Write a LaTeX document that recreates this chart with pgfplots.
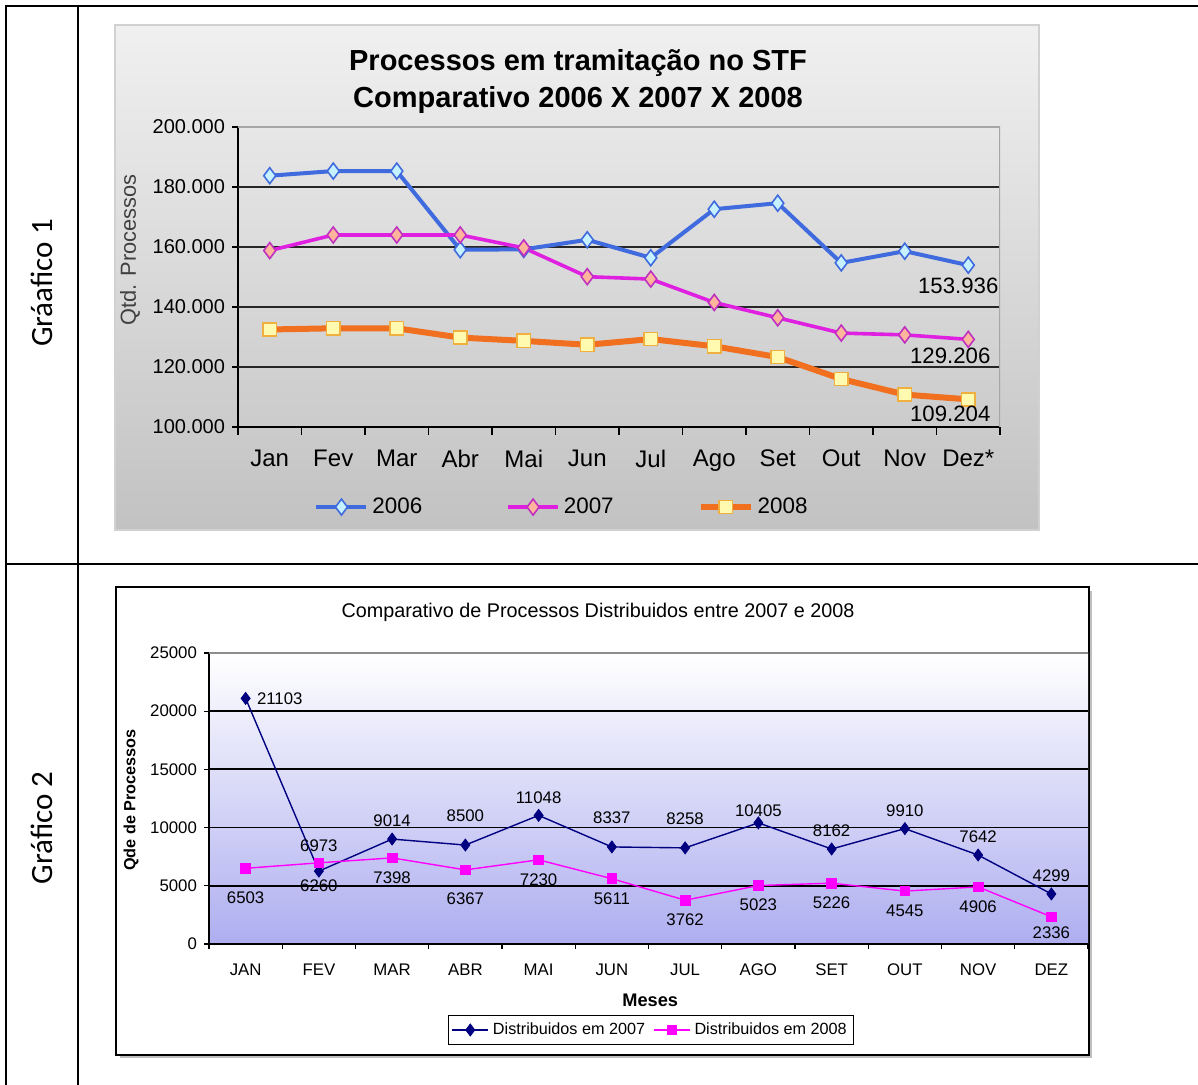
\documentclass[border=0pt]{standalone}
\usepackage{pgfplots}
\pgfplotsset{compat=1.18}
\usepackage{fontspec}
\setmainfont{Liberation Sans}
\newfontfamily\calibri{Carlito}
\definecolor{boxtop}{HTML}{F0F0F0}
\definecolor{boxbot}{HTML}{C2C2C2}
\definecolor{bl}{HTML}{3F6BDE}
\definecolor{blf}{HTML}{C6F2FF}
\definecolor{mg}{HTML}{E020E0}
\definecolor{mgf}{HTML}{FFB49C}
\definecolor{mgd}{HTML}{C030C0}
\definecolor{org}{HTML}{F07020}
\definecolor{orgf}{HTML}{FFFAB0}
\definecolor{orgd}{HTML}{F0B040}
\definecolor{navy2}{HTML}{000080}
\definecolor{pink2}{HTML}{FF00FF}
\definecolor{lav}{HTML}{AEAEF0}
\pgfplotsset{
  lbl/.style={draw=none, mark=none, forget plot, nodes near coords, point meta=explicit symbolic,
    every node near coord/.append style={inner sep=0pt, anchor=center, #1}},
}
\begin{document}
\begin{tikzpicture}
\useasboundingbox[fill=white] (0,0) rectangle (599pt,542.5pt);
% table rules
\draw[line width=1pt] (2.5pt,539.5pt) -- (599pt,539.5pt);
\draw[line width=1pt] (3pt,260.5pt) -- (599pt,260.5pt);
\draw[line width=1pt] (3pt,540pt) -- (3pt,0pt);
\draw[line width=1pt] (39pt,540pt) -- (39pt,0pt);
\node[rotate=90, font=\calibri\fontsize{15.5}{18}\selectfont] at (21pt,401pt) {Gráafico 1};
\node[rotate=90, font=\calibri\fontsize{15.5}{18}\selectfont] at (21pt,128.5pt) {Gráfico 2};
% chart 1 box
\shade[top color=boxtop, bottom color=boxbot] (57.5pt,277.5pt) rectangle (519.5pt,530pt);
\draw[black!18, line width=0.8pt] (57.5pt,277.5pt) rectangle (519.5pt,530pt);
\node[anchor=base, font=\bfseries\fontsize{14.5}{17}\selectfont] at (289pt,507pt) {Processos em tramitação no STF};
\node[anchor=base, font=\bfseries\fontsize{14.5}{17}\selectfont] at (289pt,488.5pt) {Comparativo 2006 X 2007 X 2008};
\begin{axis}[
  at={(119pt,329pt)}, anchor=south west, scale only axis,
  width=381pt, height=150pt,
  xmin=-0.5, xmax=11.5, ymin=100000, ymax=200000,
  axis x line*=bottom, axis y line*=left,
  axis line style={black, line width=1pt},
  xtick={0,...,11},
  xticklabels={Jan,Fev,Mar,Abr,Mai,Jun,Jul,Ago,Set,Out,Nov,Dez*},
  minor xtick={-0.5,0.5,...,11.5},
  ytick={100000,120000,...,200000},
  extra y ticks={120000,140000,160000,180000},
  extra y tick labels={},
  extra y tick style={grid=major, major tick length=0pt},
  major grid style={black!85, line width=1pt},
  tick align=outside,
  major tick length=3pt, minor tick length=4pt,
  tick style={black, line width=0.8pt},
  major x tick style={draw=none},
  scaled y ticks=false,
  yticklabel style={font=\fontsize{10}{12}\selectfont, /pgf/number format/fixed, /pgf/number format/1000 sep={.}, /pgf/number format/assume math mode=true},
  xticklabel style={font=\fontsize{12}{14}\selectfont, yshift=-5pt},
  ylabel={Qtd. Processos},
  ylabel style={at={(axis description cs:-0.1417,0.59)}, anchor=center, font=\fontsize{10.9}{13}\selectfont, text=black!75},
  legend columns=3,
  legend style={at={(0.4265,-0.267)}, anchor=center, draw=none, fill=none, font=\fontsize{11.2}{13}\selectfont,
    /tikz/every even column/.append style={column sep=40pt}},
  legend image code/.code={\draw[mark repeat=2,mark phase=2,#1] plot coordinates {(0pt,0pt) (12.5pt,0pt) (25pt,0pt)};},
]
\draw[black!35, line width=0.8pt] (rel axis cs:0,1) -- (rel axis cs:1,1) -- (rel axis cs:1,0);
\addplot[color=bl, line width=2pt, mark=diamond*, mark size=4pt, mark options={fill=blf, draw=bl, line width=0.8pt}]
  coordinates {(0,183760) (1,185300) (2,185300) (3,159100) (4,159200) (5,162400) (6,156400) (7,172600) (8,174600) (9,154700) (10,158600) (11,153936)};
\addlegendentry{2006}
\addplot[color=mg, line width=1.8pt, mark=diamond*, mark size=4pt, mark options={fill=mgf, draw=mgd, line width=0.8pt}]
  coordinates {(0,158800) (1,164000) (2,164000) (3,164000) (4,159700) (5,150100) (6,149300) (7,141500) (8,136400) (9,131300) (10,130700) (11,129206)};
\addlegendentry{2007}
\addplot[color=org, line width=3pt, mark=square*, mark size=3.3pt, mark options={fill=orgf, draw=orgd, line width=0.8pt}]
  coordinates {(0,132500) (1,132900) (2,132900) (3,129800) (4,128700) (5,127400) (6,129300) (7,126900) (8,123300) (9,116000) (10,110800) (11,109204)};
\addlegendentry{2008}
\addplot[lbl={font=\fontsize{11.1}{13}\selectfont, anchor=north, xshift=-5pt, yshift=-6pt}] coordinates {(11,153936) [153.936]};
\addplot[lbl={font=\fontsize{11.1}{13}\selectfont, anchor=north, xshift=-9pt, yshift=-4pt}] coordinates {(11,129206) [129.206]};
\addplot[lbl={font=\fontsize{11.1}{13}\selectfont, anchor=north, xshift=-9pt, yshift=-3pt}] coordinates {(11,109204) [109.204]};
\end{axis}
% chart 2 box
\fill[black!25] (60pt,13.5pt) rectangle (546pt,247pt);
\draw[line width=0.8pt, fill=white] (58pt,15pt) rectangle (544.5pt,249pt);
\node[font=\fontsize{9.9}{12}\selectfont] at (299pt,236.5pt) {Comparativo de Processos Distribuidos entre 2007 e 2008};
\begin{axis}[
  at={(104.5pt,70.5pt)}, anchor=south west, scale only axis,
  width=439.5pt, height=145.5pt,
  xmin=-0.5, xmax=11.5, ymin=0, ymax=25000,
  axis background/.style={shade, top color=white, bottom color=lav},
  axis x line*=bottom, axis y line*=left,
  axis line style={black, line width=0.8pt},
  xtick={0,...,11},
  xticklabels={JAN,FEV,MAR,ABR,MAI,JUN,JUL,AGO,SET,OUT,NOV,DEZ},
  minor xtick={-0.5,0.5,...,11.5},
  ytick={0,5000,...,25000},
  extra y ticks={5000,10000,15000,20000},
  extra y tick labels={},
  extra y tick style={grid=major, major tick length=0pt},
  major grid style={black, line width=0.9pt},
  tick align=outside,
  major tick length=2.5pt, minor tick length=2.5pt,
  tick style={black, line width=0.6pt},
  major x tick style={draw=none},
  scaled y ticks=false,
  ticklabel style={font=\fontsize{8.4}{10}\selectfont},
  yticklabel style={/pgf/number format/fixed, /pgf/number format/1000 sep={}, /pgf/number format/assume math mode=true},
  xticklabel style={yshift=-3.7pt},
  xlabel={\textbf{Meses}},
  xlabel style={at={(axis description cs:0.502,-0.1924)}, anchor=center, font=\fontsize{9.1}{11}\selectfont},
  ylabel={\textbf{Qde de Processos}},
  ylabel style={at={(axis description cs:-0.0887,0.495)}, anchor=center, font=\fontsize{8.1}{10}\selectfont},
  legend columns=2,
  legend style={at={(0.503,-0.2955)}, anchor=center, draw=black, line width=0.7pt, fill=white,
    font=\fontsize{8.1}{10}\selectfont, inner sep=1.5pt,
    /tikz/every even column/.append style={column sep=2pt}},
  legend image code/.code={\draw[mark repeat=2,mark phase=2,#1] plot coordinates {(0pt,0pt) (9pt,0pt) (18pt,0pt)};},
]
\draw[black!45, line width=0.6pt] (rel axis cs:0,1) -- (rel axis cs:1,1);
\addplot[navy2, line width=0.7pt, mark=diamond*, mark size=3pt, mark options={fill=navy2, line width=0.4pt}]
  coordinates {(0,21103) (1,6260) (2,9014) (3,8500) (4,11048) (5,8337) (6,8258) (7,10405) (8,8162) (9,9910) (10,7642) (11,4299)};
\addlegendentry{Distribuidos em 2007}
\addplot[pink2, line width=0.7pt, mark=square*, mark size=2.4pt, mark options={fill=pink2, line width=0.4pt}]
  coordinates {(0,6503) (1,6973) (2,7398) (3,6367) (4,7230) (5,5611) (6,3762) (7,5023) (8,5226) (9,4545) (10,4906) (11,2336)};
\addlegendentry{Distribuidos em 2008}
% labels 2007
\addplot[lbl={font=\fontsize{8.4}{10}\selectfont, anchor=west, xshift=5.5pt}] coordinates {(0,21103) [21103]};
\addplot[lbl={font=\fontsize{8.4}{10}\selectfont, yshift=-7.5pt}] coordinates {(1,6260) [6260]};
\addplot[lbl={font=\fontsize{8.4}{10}\selectfont, yshift=9pt}] coordinates {(2,9014) [9014] (4,11048) [11048] (8,8162) [8162] (9,9910) [9910] (10,7642) [7642] (11,4299) [4299]};
\addplot[lbl={font=\fontsize{8.4}{10}\selectfont, yshift=14.5pt}] coordinates {(3,8500) [8500] (5,8337) [8337] (6,8258) [8258]};
\addplot[lbl={font=\fontsize{8.4}{10}\selectfont, yshift=6pt}] coordinates {(7,10405) [10405]};
% labels 2008
\addplot[lbl={font=\fontsize{8.4}{10}\selectfont, yshift=8.5pt}] coordinates {(1,6973) [6973]};
\addplot[lbl={font=\fontsize{8.4}{10}\selectfont, yshift=-14.5pt}] coordinates {(0,6503) [6503] (3,6367) [6367]};
\addplot[lbl={font=\fontsize{8.4}{10}\selectfont, yshift=-9.8pt}] coordinates {(2,7398) [7398] (4,7230) [7230] (5,5611) [5611] (6,3762) [3762] (7,5023) [5023] (8,5226) [5226] (9,4545) [4545] (10,4906) [4906]};
\addplot[lbl={font=\fontsize{8.4}{10}\selectfont, yshift=-8pt}] coordinates {(11,2336) [2336]};
\end{axis}
\end{tikzpicture}
\end{document}
